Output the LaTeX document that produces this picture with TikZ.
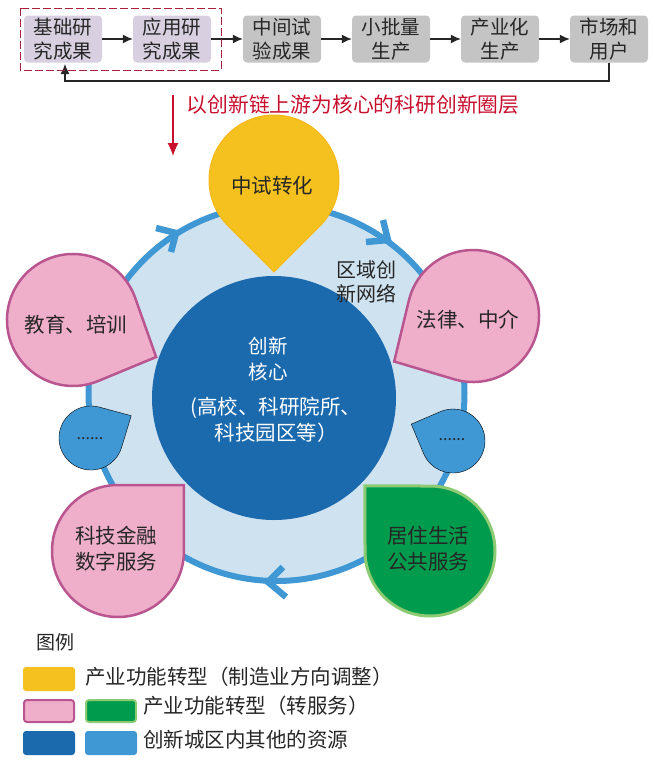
\documentclass[tikz,border=0pt]{standalone}
\usepackage{fontspec}
\setmainfont{Noto Sans CJK SC}
\usetikzlibrary{arrows.meta}
\usetikzlibrary{calc}
\usepackage{xcolor}
\definecolor{mygrey}{HTML}{C4C4C4}
\definecolor{mylilac}{HTML}{D8D0E0}
\definecolor{mydarkred}{HTML}{A8203C}
\definecolor{myred}{HTML}{C8102E}
\definecolor{myyellow}{HTML}{F5C11F}
\definecolor{mypink}{HTML}{EFAFCB}
\definecolor{mymagenta}{HTML}{B9558F}
\definecolor{mygreen}{HTML}{009B4C}
\definecolor{mylime}{HTML}{8CCB72}
\definecolor{mydarkblue}{HTML}{1B6AAE}
\definecolor{myblue}{HTML}{3F97D4}
\definecolor{mypale}{HTML}{CFE2F0}
\tikzset{
  x=1pt,y=1pt,
  chain box/.style={draw=none,rounded corners=4,minimum width=78,minimum height=47,inner sep=0,align=center,font=\fontsize{19.5}{24}\selectfont,text=black!85},
  box grey/.style={chain box,fill=mygrey},
  box lilac/.style={chain box,fill=mylilac},
  connect arrow/.style={-{Latex[length=10,width=9]},line width=1.2,black!85},
  label/.style={inner sep=0,align=center,font=\fontsize{20.5}{26}\selectfont,text=black!85},
  label white/.style={label,text=white},
  swatch/.style={rounded corners=3,minimum width=52,minimum height=24,inner sep=0},
  ring arrow/.style={line width=6.5,myblue},
  drop yellow/.style={fill=myyellow,draw=myyellow!85!orange,line width=1},
  drop pink/.style={fill=mypink,draw=mymagenta,line width=2.5},
  drop green/.style={fill=mygreen,draw=mylime,line width=3},
  drop blue/.style={fill=myblue}
}
% drop: centre x, centre y, radius, tip angle, tip distance, style
\newcommand{\dropshape}[6]{
  \pgfmathsetmacro{\dropgap}{acos(#3/#5)}
  \draw[#6] (#1,#2) ++(#4:#5) -- ($(#1,#2)+(#4+\dropgap:#3)$) arc[start angle=#4+\dropgap,end angle=#4+360-\dropgap,radius=#3] -- cycle;
}
\begin{document}
\begin{tikzpicture}
  \useasboundingbox (0,0) rectangle (655,-763);
  % chain
  \node[box lilac] (basic) at (63,-39) {基础研\\究成果};
  \node[box lilac] (applied) at (172,-39) {应用研\\究成果};
  \node[box grey] (pilot) at (282,-39) {中间试\\验成果};
  \node[box grey] (batch) at (391,-39) {小批量\\生产};
  \node[box grey] (industry) at (500,-39) {产业化\\生产};
  \node[box grey] (market) at (609,-39) {市场和\\用户};
  \draw[connect arrow] (basic) -- (applied);
  \draw[connect arrow] (applied) -- (pilot);
  \draw[connect arrow] (pilot) -- (batch);
  \draw[connect arrow] (batch) -- (industry);
  \draw[connect arrow] (industry) -- (market);
  \coordinate (back) at (65,-64);
  \draw[connect arrow] (market.south) |- (65,-81) -- (back);
  \draw[mydarkred,dash pattern=on 8 off 3,line width=1] (20,-8) rectangle (221,-70);
  \coordinate (redtop) at (173,-95);
  \coordinate (redend) at (173,-156);
  \draw[-{Latex[length=13,width=11]},line width=1.1,myred] (redtop) -- (redend);
  \node[label,text=myred,font=\fontsize{20.8}{24}\selectfont] (title) at (353,-105) {以创新链上游为核心的科研创新圈层};

  % region
  \draw[fill=mypale,draw=myblue,line width=6] (276.5,-393) circle[radius=188];
  \draw[ring arrow] (156,-228) -- (176,-233) -- (171,-252);
  \draw[ring arrow] (383,-220) -- (388,-240) -- (366,-242);
  \draw[ring arrow] (283,-567) -- (268,-582) -- (286,-597);
  \fill[mydarkblue] (274,-398) circle[radius=122];
  \dropshape{274}{-180}{65}{-90}{92}{drop yellow}
  \dropshape{73}{-320}{66}{-24}{91}{drop pink}
  \dropshape{473}{-316}{66}{210}{91}{drop pink}
  \dropshape{91}{-438}{32}{29}{46}{drop blue}
  \dropshape{453}{-441}{32}{158}{45}{drop blue}
  \dropshape{118}{-551}{66}{45}{93}{drop pink}
  \dropshape{430}{-551}{65}{135}{92}{drop green}

  \node[label] (pilotlabel) at (272,-186) {中试转化};
  \node[label,font=\fontsize{20}{24.5}\selectfont] (network) at (366,-282) {区域创\\新网络};
  \node[label] (law) at (468,-320) {法律、中介};
  \node[label] (edu) at (76,-325) {教育、培训};
  \node[label white,font=\fontsize{19.5}{26}\selectfont] (core) at (268,-359) {创新\\核心};
  \node[label white] (campus) at (276,-420) {(高校、科研院所、\\科技园区等）};
  \node[label,font=\fontsize{16}{16}\selectfont] (dotsleft) at (90,-439) {......};
  \node[label,font=\fontsize{16}{16}\selectfont] (dotsright) at (452,-440) {......};
  \node[label] (finance) at (116,-549) {科技金融\\数字服务};
  \node[label] (living) at (428,-549) {居住生活\\公共服务};

  % legend
  \node[label,font=\fontsize{19}{24}\selectfont] (legend) at (55,-642) {图例};
  \node[swatch,fill=myyellow] (s1) at (49,-679) {};
  \node[swatch,fill=mypink,draw=mymagenta,line width=2,minimum width=50,minimum height=22] (s2) at (49,-711) {};
  \node[swatch,fill=mygreen,draw=mylime,line width=2,minimum width=50,minimum height=22] (s3) at (111,-711) {};
  \node[swatch,fill=mydarkblue] (s4) at (49,-743) {};
  \node[swatch,fill=myblue] (s5) at (111,-743) {};
  \node[label,anchor=west] (t1) at (85,-677) {产业功能转型（制造业方向调整）};
  \node[label,anchor=west] (t2) at (143,-706) {产业功能转型（转服务）};
  \node[label,anchor=west] (t3) at (143,-740) {创新城区内其他的资源};
\end{tikzpicture}
\end{document}
